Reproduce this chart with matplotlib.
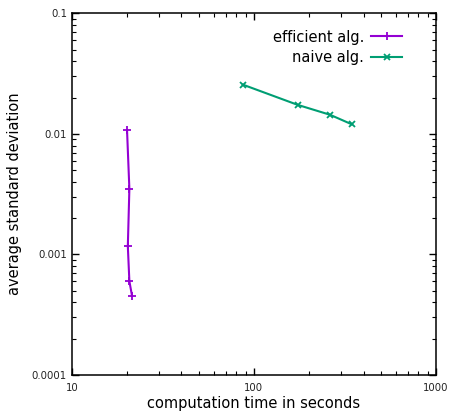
import matplotlib
matplotlib.use("Agg")
import matplotlib.pyplot as plt
from matplotlib.ticker import LogLocator, FixedLocator, NullFormatter

# data
effTime = [20.1, 20.7, 20.3, 20.7, 21.4]
effStd = [0.0107, 0.0035, 0.00117, 0.0006, 0.000455]
naiveTime = [87, 174, 262, 345]
naiveStd = [0.0256, 0.0174, 0.0144, 0.0120]

xTicks = [10, 100, 1000]
xTickLabels = ["10", "100", "1000"]
yTicks = [0.0001, 0.001, 0.01, 0.1]
yTickLabels = ["0.0001", "0.001", "0.01", "0.1"]

fig = plt.figure(figsize=(4.49, 4.11), dpi=100)
ax = fig.add_axes([0.160, 0.0876, 0.811, 0.880])

ax.plot(effTime, effStd, color="#9400d3", marker="+", markersize=5.5, mew=1.3,
        linewidth=1.5, label="efficient alg.")
ax.plot(naiveTime, naiveStd, color="#009e73", marker="x", markersize=4, mew=1.3,
        linewidth=1.5, label="naive alg.")

ax.set_xscale("log")
ax.set_yscale("log")
ax.set_xlim(10, 1000)
ax.set_ylim(0.0001, 0.1)

ax.xaxis.set_major_locator(FixedLocator(xTicks))
ax.set_xticklabels(xTickLabels)
ax.yaxis.set_major_locator(FixedLocator(yTicks))
ax.set_yticklabels(yTickLabels)
ax.xaxis.set_minor_locator(LogLocator(base=10, subs=range(2, 10)))
ax.yaxis.set_minor_locator(LogLocator(base=10, subs=range(2, 10)))
ax.xaxis.set_minor_formatter(NullFormatter())
ax.yaxis.set_minor_formatter(NullFormatter())

ax.tick_params(which="both", direction="in", top=True, right=True, labelsize=7.3,
               colors="black", labelcolor="#222222")
ax.tick_params(which="major", length=5, width=1)
ax.tick_params(which="minor", length=3, width=0.8)
ax.tick_params(axis="x", pad=6)
for s in ax.spines.values():
    s.set_linewidth(1.1)

ax.set_xlabel("computation time in seconds", fontsize=10.5, labelpad=2)
ax.set_ylabel("average standard deviation", fontsize=10.5, labelpad=7)

ax.legend(loc="upper right", bbox_to_anchor=(0.907, 0.955), frameon=False,
          markerfirst=False, fontsize=10.5, handlelength=2.1, borderaxespad=0,
          borderpad=0, labelspacing=0.4, handletextpad=0.5)

fig.savefig("out.png", dpi=100)
